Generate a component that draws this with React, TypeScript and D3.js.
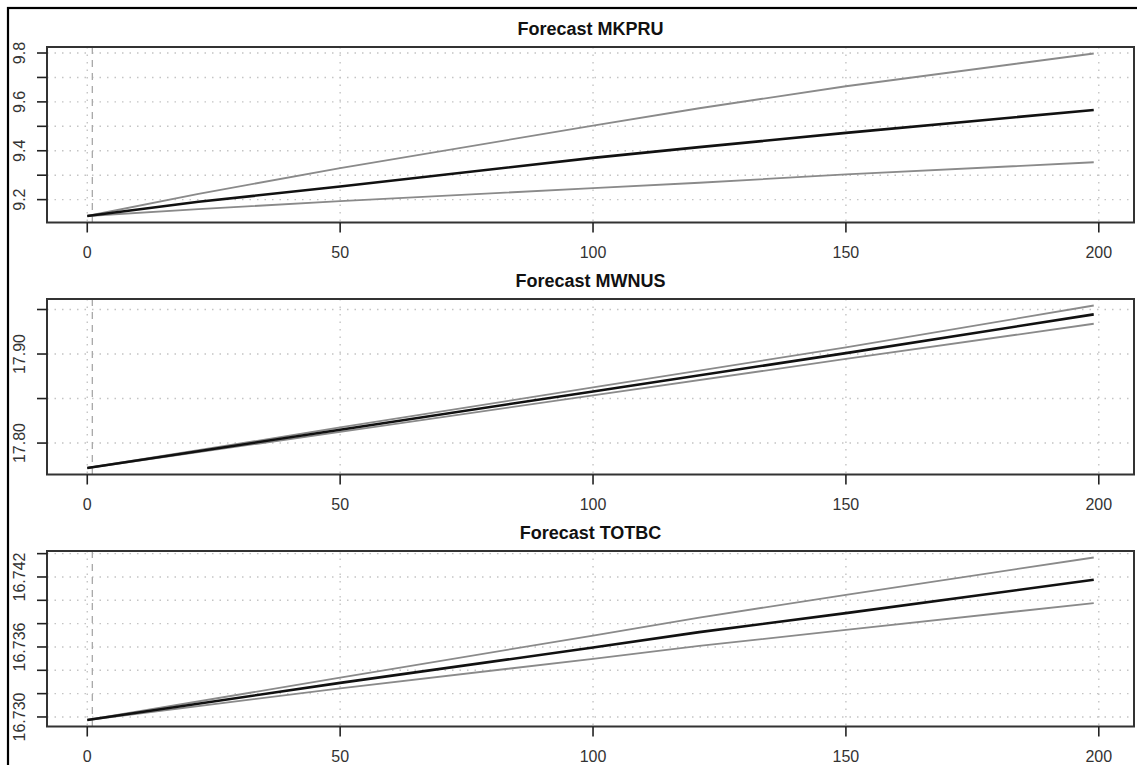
import React from "react";
import * as d3 from "d3";

// ---- Data ----
const titles = ["Forecast MKPRU", "Forecast MWNUS", "Forecast TOTBC"];

const xTicks = [0, 50, 100, 150, 200];
const forecastStartX = 1;

// MKPRU
const mkpruX = [0, 22, 50, 100, 121, 150, 199];
const mkpruMean = [9.133, 9.191, 9.254, 9.371, 9.415, 9.473, 9.567];
const mkpruUpper = [9.133, 9.224, 9.329, 9.503, 9.574, 9.664, 9.798];
const mkpruLower = [9.133, 9.161, 9.194, 9.247, 9.269, 9.303, 9.353];
const mkpruTicks = [9.2, 9.3, 9.4, 9.5, 9.6, 9.7, 9.8];
const mkpruLabels = ["9.2", "", "9.4", "", "9.6", "", "9.8"];

// MWNUS
const mwnusX = [0, 50, 100, 150, 199];
const mwnusMean = [17.772, 17.815, 17.858, 17.901, 17.9445];
const mwnusUpper = [17.772, 17.8175, 17.8625, 17.9075, 17.9545];
const mwnusLower = [17.772, 17.8125, 17.8535, 17.8945, 17.934];
const mwnusTicks = [17.8, 17.85, 17.9, 17.95];
const mwnusLabels = ["17.80", "", "17.90", ""];

// TOTBC
const totbcX = [0, 50, 100, 121, 150, 199];
const totbcMean = [16.72974, 16.73292, 16.73595, 16.73727, 16.7389, 16.74176];
const totbcUpper = [16.72974, 16.73337, 16.73698, 16.73852, 16.74047, 16.74367];
const totbcLower = [16.72974, 16.73246, 16.73498, 16.73609, 16.73747, 16.73976];
const totbcTicks = [16.73, 16.732, 16.734, 16.736, 16.738, 16.74, 16.742, 16.744];
const totbcLabels = ["16.730", "", "", "16.736", "", "", "16.742", ""];

const panelX = [mkpruX, mwnusX, totbcX];
const panelMean = [mkpruMean, mwnusMean, totbcMean];
const panelUpper = [mkpruUpper, mwnusUpper, totbcUpper];
const panelLower = [mkpruLower, mwnusLower, totbcLower];
const panelTicks = [mkpruTicks, mwnusTicks, totbcTicks];
const panelLabels = [mkpruLabels, mwnusLabels, totbcLabels];

// ---- Layout ----
const W = 1137;
const H = 765;
const LEFT = 47;
const RIGHT = 1134;
const TOP0 = 47;
const STEP = 252;
const PH = 175.5;
const FONT = "'Liberation Sans', Arial, Helvetica, sans-serif";

function padExtent(vals: number[]): [number, number] {
  const mn = d3.min(vals) as number;
  const mx = d3.max(vals) as number;
  const p = (mx - mn) * 0.04;
  return [mn - p, mx + p];
}

function Panel({ i }: { i: number }) {
  const xs = panelX[i];
  const top = TOP0 + i * STEP;
  const bottom = top + PH;
  const x = d3.scaleLinear().domain(padExtent(xs)).range([LEFT, RIGHT]);
  const allY = [...panelMean[i], ...panelUpper[i], ...panelLower[i]];
  const y = d3.scaleLinear().domain(padExtent(allY)).range([bottom, top]);
  const line = d3
    .line<number>()
    .x((_, k) => x(xs[k]))
    .y((d) => y(d));
  const ticks = panelTicks[i];
  const labels = panelLabels[i];
  return (
    <g>
      {/* grid */}
      {ticks.map((t, k) => (
        <line
          key={"gy" + k}
          x1={LEFT}
          x2={RIGHT}
          y1={y(t)}
          y2={y(t)}
          stroke="#c4c4c4"
          strokeWidth={1.4}
          strokeDasharray="1.5 6"
        />
      ))}
      {xTicks.map((t, k) => (
        <line
          key={"gx" + k}
          x1={x(t)}
          x2={x(t)}
          y1={top}
          y2={bottom}
          stroke="#c4c4c4"
          strokeWidth={1.4}
          strokeDasharray="1.5 6"
        />
      ))}
      {/* forecast start */}
      <line
        x1={x(forecastStartX)}
        x2={x(forecastStartX)}
        y1={top}
        y2={bottom}
        stroke="#a8a8a8"
        strokeWidth={1.3}
        strokeDasharray="7 6"
      />
      {/* series */}
      <path d={line(panelUpper[i]) || ""} fill="none" stroke="#8a8a8a" strokeWidth={1.8} />
      <path d={line(panelLower[i]) || ""} fill="none" stroke="#8a8a8a" strokeWidth={1.8} />
      <path d={line(panelMean[i]) || ""} fill="none" stroke="#111" strokeWidth={2.6} />
      {/* box */}
      <rect x={LEFT} y={top} width={RIGHT - LEFT} height={PH} fill="none" stroke="#333" strokeWidth={2} />
      {/* y axis */}
      {ticks.map((t, k) => (
        <g key={"ty" + k}>
          <line x1={LEFT - 10} x2={LEFT} y1={y(t)} y2={y(t)} stroke="#222" strokeWidth={1.6} />
          {labels[k] ? (
            <text
              transform={`translate(25,${y(t)}) rotate(-90)`}
              textAnchor="middle"
              fontFamily={FONT}
              fontSize={16}
              fill="#333"
            >
              {labels[k]}
            </text>
          ) : null}
        </g>
      ))}
      {/* x axis */}
      {xTicks.map((t, k) => (
        <g key={"tx" + k}>
          <line x1={x(t)} x2={x(t)} y1={bottom} y2={bottom + 10} stroke="#222" strokeWidth={1.6} />
          <text x={x(t)} y={bottom + 35} textAnchor="middle" fontFamily={FONT} fontSize={16} fill="#333">
            {t}
          </text>
        </g>
      ))}
      {/* title */}
      <text
        x={(LEFT + RIGHT) / 2}
        y={top - 12}
        textAnchor="middle"
        fontFamily={FONT}
        fontSize={18}
        fontWeight="bold"
        fill="#111"
      >
        {titles[i]}
      </text>
    </g>
  );
}

export default function App() {
  return (
    <svg
      width={W}
      height={H}
      style={{ position: "absolute", left: 0, top: 0, background: "#fff" }}
    >
      <rect x={0} y={0} width={W} height={H} fill="#fff" />
      <rect x={8} y={8} width={W + 20} height={H + 20} fill="none" stroke="#000" strokeWidth={2.2} />
      {titles.map((_, i) => (
        <Panel key={i} i={i} />
      ))}
    </svg>
  );
}
